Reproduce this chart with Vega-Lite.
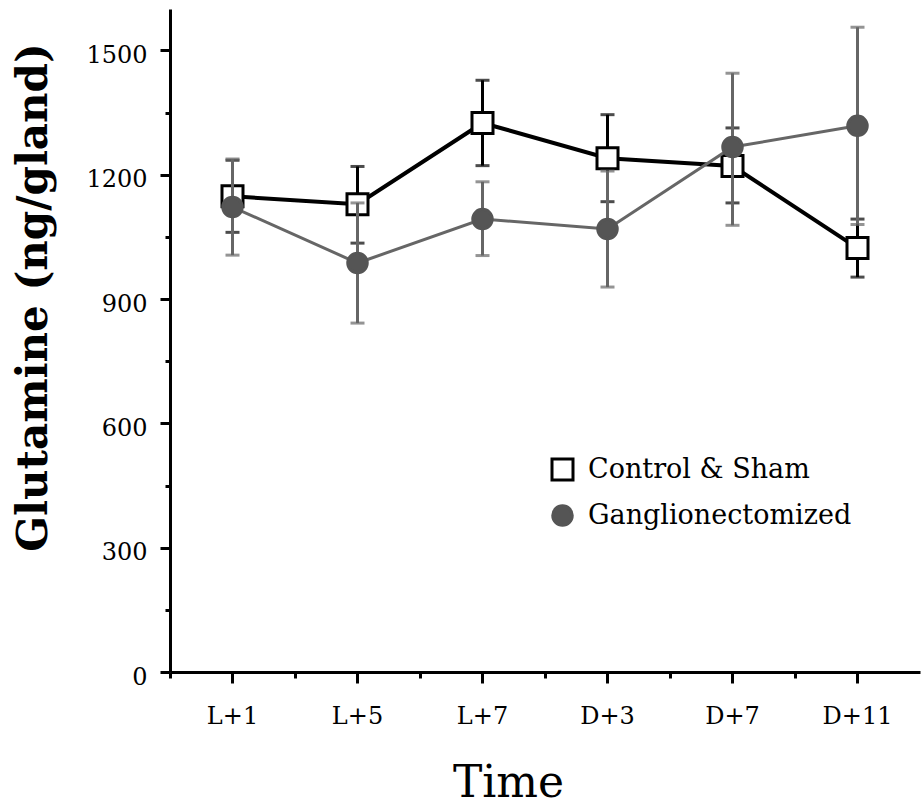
{
  "$schema": "https://vega.github.io/schema/vega-lite/v6.json",
  "width": 750,
  "height": 663,
  "autosize": "none",
  "padding": {"left": 170, "top": 9, "right": 1, "bottom": 135},
  "background": "white",
  "config": {
    "font": "DejaVu Serif",
    "view": {"stroke": null},
    "axis": {"domainColor": "black", "tickColor": "black", "labelColor": "black", "titleColor": "black", "grid": false, "domainWidth": 3, "tickWidth": 3}
  },
  "datasets": {
    "control": [
      {"time": "L+1", "group": "Control & Sham", "mean": 1148, "lo": 1061, "hi": 1235},
      {"time": "L+5", "group": "Control & Sham", "mean": 1129, "lo": 1035, "hi": 1220},
      {"time": "L+7", "group": "Control & Sham", "mean": 1325, "lo": 1222, "hi": 1428},
      {"time": "D+3", "group": "Control & Sham", "mean": 1240, "lo": 1135, "hi": 1345},
      {"time": "D+7", "group": "Control & Sham", "mean": 1221, "lo": 1132, "hi": 1313},
      {"time": "D+11", "group": "Control & Sham", "mean": 1023, "lo": 953, "hi": 1093}
    ],
    "gang": [
      {"time": "L+1", "group": "Ganglionectomized", "mean": 1122, "lo": 1006, "hi": 1238},
      {"time": "L+5", "group": "Ganglionectomized", "mean": 987, "lo": 842, "hi": 1132},
      {"time": "L+7", "group": "Ganglionectomized", "mean": 1093, "lo": 1005, "hi": 1183},
      {"time": "D+3", "group": "Ganglionectomized", "mean": 1069, "lo": 929, "hi": 1209},
      {"time": "D+7", "group": "Ganglionectomized", "mean": 1267, "lo": 1078, "hi": 1445},
      {"time": "D+11", "group": "Ganglionectomized", "mean": 1318, "lo": 1080, "hi": 1556}
    ]
  },
  "resolve": {"axis": {"x": "independent", "y": "independent"}},
  "layer": [
    {
      "data": {"name": "control"},
      "mark": {"type": "line", "color": "black", "strokeWidth": 4},
      "encoding": {
        "x": {"field": "time", "type": "ordinal", "sort": ["L+1", "L+5", "L+7", "D+3", "D+7", "D+11"], "scale": {"type": "band", "paddingInner": 0, "paddingOuter": 0}, "bandPosition": 0.5,
          "axis": {"orient": "bottom", "title": "Time", "titleFontSize": 44, "titleFontWeight": "normal", "titleX": 338, "titleY": 124, "titleAlign": "center", "titleBaseline": "alphabetic", "labelAngle": 0, "labelFontSize": 24, "labelPadding": 21, "tickSize": 11, "labelBaseline": "top"}},
        "y": {"field": "mean", "type": "quantitative", "scale": {"domain": [0, 1600], "nice": false},
          "axis": {"orient": "left", "title": "Glutamine (ng/gland)", "titleFontSize": 42, "titleFontWeight": "bold", "titleAngle": -90, "titleX": -137, "titleY": 288, "titleAlign": "center", "titleBaseline": "middle", "values": [0, 300, 600, 900, 1200, 1500], "format": "d", "tickSize": 10, "labelPadding": 13, "labelFontSize": 24, "labelOffset": 5}}
      }
    },
    {
      "data": {"name": "control"},
      "mark": {"type": "rule", "color": "black", "strokeWidth": 3},
      "encoding": {
        "x": {"field": "time", "type": "ordinal", "sort": ["L+1", "L+5", "L+7", "D+3", "D+7", "D+11"], "scale": {"type": "band", "paddingInner": 0, "paddingOuter": 0}, "bandPosition": 0.5,
          "axis": {"orient": "bottom", "title": null, "labels": false, "bandPosition": 0, "tickSize": 6, "domain": false}},
        "y": {"field": "lo", "type": "quantitative", "scale": {"domain": [0, 1600], "nice": false},
          "axis": {"orient": "left", "title": null, "labels": false, "values": [150, 450, 750, 1050, 1350], "tickSize": 5, "domain": false}},
        "y2": {"field": "hi"}
      }
    },
    {
      "data": {"name": "control"},
      "mark": {"type": "tick", "color": "black", "size": 14, "thickness": 3},
      "encoding": {
        "x": {"field": "time", "type": "ordinal", "sort": ["L+1", "L+5", "L+7", "D+3", "D+7", "D+11"], "scale": {"type": "band", "paddingInner": 0, "paddingOuter": 0}, "bandPosition": 0.5, "axis": null},
        "y": {"field": "lo", "type": "quantitative", "scale": {"domain": [0, 1600], "nice": false}, "axis": null}
      }
    },
    {
      "data": {"name": "control"},
      "mark": {"type": "tick", "color": "black", "size": 14, "thickness": 3},
      "encoding": {
        "x": {"field": "time", "type": "ordinal", "sort": ["L+1", "L+5", "L+7", "D+3", "D+7", "D+11"], "scale": {"type": "band", "paddingInner": 0, "paddingOuter": 0}, "bandPosition": 0.5, "axis": null},
        "y": {"field": "hi", "type": "quantitative", "scale": {"domain": [0, 1600], "nice": false}, "axis": null}
      }
    },
    {
      "data": {"name": "control"},
      "mark": {"type": "point", "filled": false, "strokeWidth": 3, "opacity": 1},
      "encoding": {
        "x": {"field": "time", "type": "ordinal", "sort": ["L+1", "L+5", "L+7", "D+3", "D+7", "D+11"], "scale": {"type": "band", "paddingInner": 0, "paddingOuter": 0}, "bandPosition": 0.5, "axis": null},
        "y": {"field": "mean", "type": "quantitative", "scale": {"domain": [0, 1600], "nice": false}, "axis": null},
        "shape": {"field": "group", "type": "nominal", "scale": {"domain": ["Control & Sham", "Ganglionectomized"], "range": ["square", "circle"]},
          "legend": {"orient": "none", "legendX": 379, "legendY": 447, "title": null, "labelFont": "DejaVu Serif", "labelFontSize": 27, "labelColor": "black", "labelLimit": 0, "symbolStrokeWidth": 3, "rowPadding": 13, "labelOffset": 12, "padding": 0}},
        "fill": {"field": "group", "type": "nominal", "scale": {"domain": ["Control & Sham", "Ganglionectomized"], "range": ["#ffffff", "#555555"]}},
        "stroke": {"field": "group", "type": "nominal", "scale": {"domain": ["Control & Sham", "Ganglionectomized"], "range": ["#000000", "#555555"]}},
        "size": {"field": "group", "type": "nominal", "scale": {"domain": ["Control & Sham", "Ganglionectomized"], "range": [441, 380]}}
      }
    },
    {
      "data": {"name": "gang"},
      "mark": {"type": "line", "color": "#666666", "strokeWidth": 3},
      "encoding": {
        "x": {"field": "time", "type": "ordinal", "sort": ["L+1", "L+5", "L+7", "D+3", "D+7", "D+11"], "scale": {"type": "band", "paddingInner": 0, "paddingOuter": 0}, "bandPosition": 0.5, "axis": null},
        "y": {"field": "mean", "type": "quantitative", "scale": {"domain": [0, 1600], "nice": false}, "axis": null}
      }
    },
    {
      "data": {"name": "gang"},
      "mark": {"type": "rule", "color": "#666666", "strokeWidth": 3},
      "encoding": {
        "x": {"field": "time", "type": "ordinal", "sort": ["L+1", "L+5", "L+7", "D+3", "D+7", "D+11"], "scale": {"type": "band", "paddingInner": 0, "paddingOuter": 0}, "bandPosition": 0.5, "axis": null},
        "y": {"field": "lo", "type": "quantitative", "scale": {"domain": [0, 1600], "nice": false}, "axis": null},
        "y2": {"field": "hi"}
      }
    },
    {
      "data": {"name": "gang"},
      "mark": {"type": "tick", "color": "#666666", "size": 14, "thickness": 3},
      "encoding": {
        "x": {"field": "time", "type": "ordinal", "sort": ["L+1", "L+5", "L+7", "D+3", "D+7", "D+11"], "scale": {"type": "band", "paddingInner": 0, "paddingOuter": 0}, "bandPosition": 0.5, "axis": null},
        "y": {"field": "lo", "type": "quantitative", "scale": {"domain": [0, 1600], "nice": false}, "axis": null}
      }
    },
    {
      "data": {"name": "gang"},
      "mark": {"type": "tick", "color": "#666666", "size": 14, "thickness": 3},
      "encoding": {
        "x": {"field": "time", "type": "ordinal", "sort": ["L+1", "L+5", "L+7", "D+3", "D+7", "D+11"], "scale": {"type": "band", "paddingInner": 0, "paddingOuter": 0}, "bandPosition": 0.5, "axis": null},
        "y": {"field": "hi", "type": "quantitative", "scale": {"domain": [0, 1600], "nice": false}, "axis": null}
      }
    },
    {
      "data": {"name": "gang"},
      "mark": {"type": "point", "filled": false, "strokeWidth": 3, "opacity": 1},
      "encoding": {
        "x": {"field": "time", "type": "ordinal", "sort": ["L+1", "L+5", "L+7", "D+3", "D+7", "D+11"], "scale": {"type": "band", "paddingInner": 0, "paddingOuter": 0}, "bandPosition": 0.5, "axis": null},
        "y": {"field": "mean", "type": "quantitative", "scale": {"domain": [0, 1600], "nice": false}, "axis": null},
        "shape": {"field": "group", "type": "nominal", "scale": {"domain": ["Control & Sham", "Ganglionectomized"], "range": ["square", "circle"]}},
        "fill": {"field": "group", "type": "nominal", "scale": {"domain": ["Control & Sham", "Ganglionectomized"], "range": ["#ffffff", "#555555"]}},
        "stroke": {"field": "group", "type": "nominal", "scale": {"domain": ["Control & Sham", "Ganglionectomized"], "range": ["#000000", "#555555"]}},
        "size": {"field": "group", "type": "nominal", "scale": {"domain": ["Control & Sham", "Ganglionectomized"], "range": [441, 380]}}
      }
    }
  ]
}
